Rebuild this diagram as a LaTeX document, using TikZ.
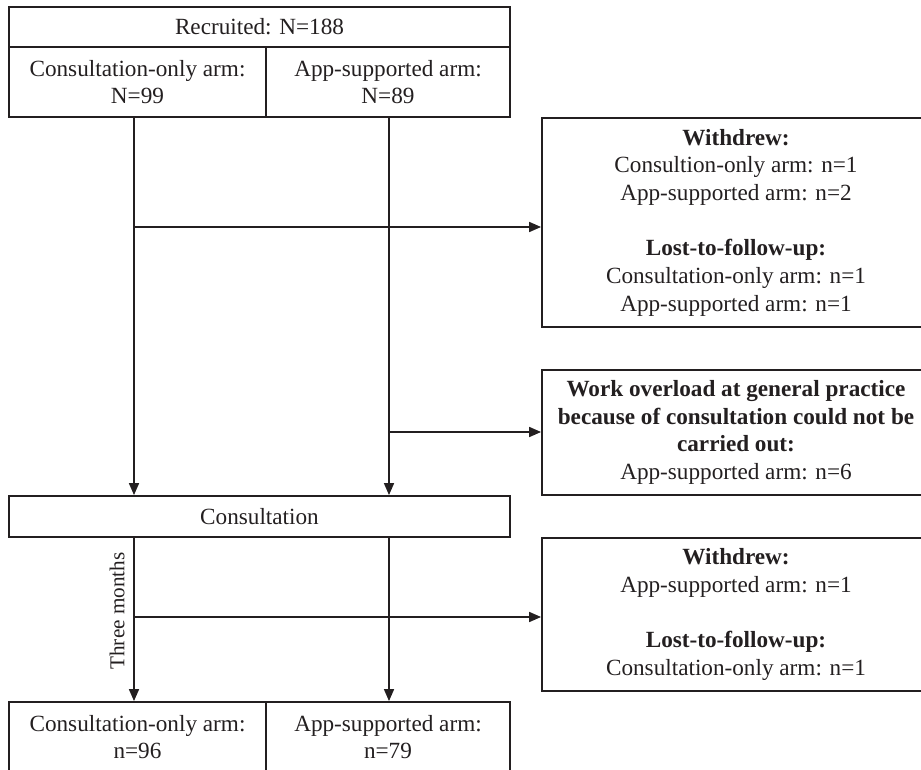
\documentclass[tikz,border=0pt]{standalone}
\usepackage{fontspec}
\setmainfont{Liberation Serif}
\usetikzlibrary{arrows.meta}
\definecolor{ink}{RGB}{35,31,32}
\begin{document}
\begin{tikzpicture}[x=0.5pt,y=-0.5pt,
  every node/.style={text=ink},
  boxn/.style={draw=ink,line width=0.9pt,rectangle,inner sep=0pt,align=center,
    font=\fontsize{11.6}{13.8}\selectfont},
  arr/.style={draw=ink,line width=0.8pt,-{Triangle[length=6pt,width=5pt]}},
  ln/.style={draw=ink,line width=0.8pt}]
\useasboundingbox (0,0) rectangle (921,770);
\clip (0,0) rectangle (921,770);
% left column boxes
\node[boxn,minimum width=250.5pt,minimum height=20pt] (rec) at (259.5,27) {Recruited: N=188};
\node[boxn,minimum width=128.5pt,minimum height=35pt] (armA) at (137.5,82) {Consultation-only arm:\\N=99};
\node[boxn,minimum width=122pt,minimum height=35pt] (armB) at (388,82) {App-supported arm:\\N=89};
\node[boxn,minimum width=250.5pt,minimum height=20.5pt] (cons) at (259.5,516.5) {Consultation};
\node[boxn,minimum width=128.5pt,minimum height=35pt] (finA) at (137.5,737) {Consultation-only arm:\\n=96};
\node[boxn,minimum width=122pt,minimum height=35pt] (finB) at (388,737) {App-supported arm:\\n=79};
% right column boxes
\node[boxn,minimum width=194pt,minimum height=104.5pt] (w1) at (736,222.5)
  {\textbf{Withdrew:}\\Consultion-only arm: n=1\\App-supported arm: n=2\\[14pt]\textbf{Lost-to-follow-up:}\\Consultation-only arm: n=1\\App-supported arm: n=1};
\node[boxn,minimum width=194pt,minimum height=62.5pt] (w2) at (736,432.5)
  {\textbf{Work overload at general practice}\\\textbf{because of consultation could not be}\\\textbf{carried out:}\\App-supported arm: n=6};
\node[boxn,minimum width=194pt,minimum height=76.5pt] (w3) at (736,614.5)
  {\textbf{Withdrew:}\\App-supported arm: n=1\\[14pt]\textbf{Lost-to-follow-up:}\\Consultation-only arm: n=1};
% helper coordinates
\coordinate (xa) at (134,0);
\coordinate (xb) at (389,0);
\coordinate (j1) at (134,227);
\coordinate (j2) at (389,432);
\coordinate (j3) at (134,617);
% vertical flow
\draw[arr] (armA.south -| xa) -- (cons.north -| xa);
\draw[arr] (armB.south -| xb) -- (cons.north -| xb);
\draw[arr] (cons.south -| xa) -- (finA.north -| xa);
\draw[arr] (cons.south -| xb) -- (finB.north -| xb);
% side arrows
\draw[arr] (j1) -- (j1 -| w1.west);
\draw[arr] (j2) -- (j2 -| w2.west);
\draw[arr] (j3) -- (j3 -| w3.west);
% label
\node[rotate=90,font=\fontsize{10.6}{12}\selectfont,inner sep=0pt] (tm) at (117,611) {Three months};
\end{tikzpicture}
\end{document}
